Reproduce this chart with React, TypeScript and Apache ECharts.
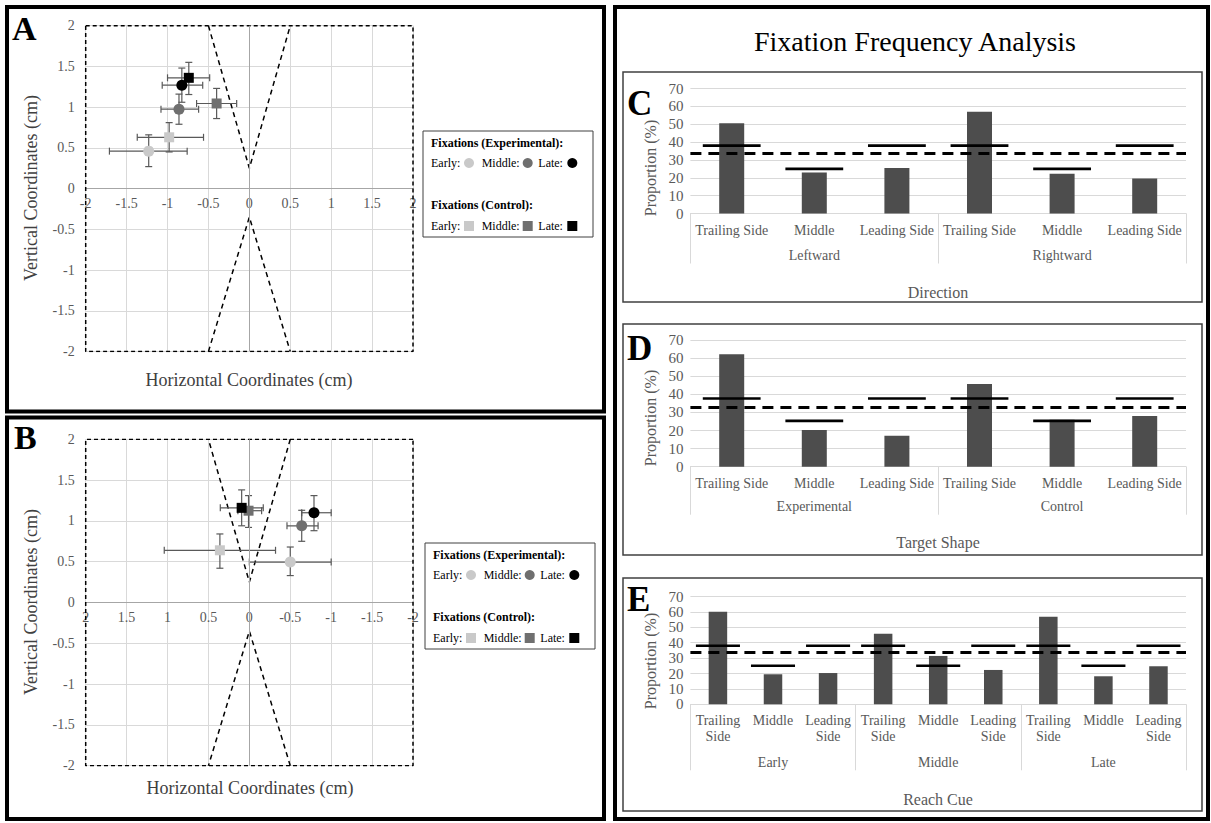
import { useEffect, useRef } from 'react';
import * as echarts from 'echarts';

const FONT = 'Liberation Serif, Times New Roman, Times, serif';

// ---------- Panels A & B : fixation coordinates (cm) ----------
// each point: [x, y, xLow, xHigh, yLow, yHigh]
const stageNames = ['Early', 'Middle', 'Late'];
const stageColors = ['#c9c9c9', '#6f6f6f', '#000000'];
const panelA_experimental = [
  [-1.23, 0.46, -1.71, -0.76, 0.27, 0.66],
  [-0.86, 0.975, -1.08, -0.62, 0.79, 1.16],
  [-0.825, 1.27, -1.065, -0.57, 1.06, 1.48],
];
const panelA_control = [
  [-0.98, 0.63, -1.37, -0.56, 0.45, 0.81],
  [-0.4, 1.045, -0.645, -0.155, 0.86, 1.23],
  [-0.74, 1.36, -1.0, -0.485, 1.155, 1.55],
];
const panelB_experimental = [
  [-0.5, 0.495, -1.0, 0.0, 0.33, 0.68],
  [-0.64, 0.94, -0.84, -0.46, 0.75, 1.13],
  [-0.79, 1.1, -1.0, -0.64, 0.88, 1.31],
];
const panelB_control = [
  [0.36, 0.64, -0.32, 1.04, 0.42, 0.84],
  [0.01, 1.125, -0.15, 0.14, 0.92, 1.31],
  [0.094, 1.16, -0.17, 0.355, 0.94, 1.38],
];
const targetBorder = [[-2, 2], [2, 2], [2, -2], [-2, -2], [-2, 2]];
const upperWedge = [[-0.5, 2], [0, 0.25], [0.5, 2]];
const lowerWedge = [[-0.5, -2], [0, -0.35], [0.5, -2]];

// ---------- Panels C, D, E : fixation frequency (%) ----------
const sideCategories = ['Trailing Side', 'Middle', 'Leading Side', 'Trailing Side', 'Middle', 'Leading Side'];
const directionGroups = ['Leftward', 'Rightward'];
const directionValues = [50.5, 23, 25.5, 57, 22.3, 19.6];
const directionExpected = [38, 25, 38, 38, 25, 38];
const directionChance = 34;

const shapeGroups = ['Experimental', 'Control'];
const shapeValues = [62.1, 20.3, 17.1, 45.7, 26, 28];
const shapeExpected = [37.7, 25.3, 37.7, 37.7, 25.3, 37.7];
const shapeChance = 33;

const cueCategories = ['Trailing\nSide', 'Middle', 'Leading\nSide', 'Trailing\nSide', 'Middle', 'Leading\nSide', 'Trailing\nSide', 'Middle', 'Leading\nSide'];
const cueGroups = ['Early', 'Middle', 'Late'];
const cueValues = [60.1, 19.5, 20.3, 45.8, 31.4, 22.3, 56.9, 18.2, 24.7];
const cueExpected = [38, 25, 38, 38, 25, 38, 38, 25, 38];
const cueChance = 34;

const GRID_GRAY = '#d9d9d9';
const LABEL_GRAY = '#595959';
const BAR_COLOR = '#4d4d4d';

function errorBarRender(params: any, api: any) {
  const p = api.coord([api.value(0), api.value(1)]);
  const l = api.coord([api.value(2), api.value(1)]);
  const r = api.coord([api.value(3), api.value(1)]);
  const b = api.coord([api.value(0), api.value(4)]);
  const t = api.coord([api.value(0), api.value(5)]);
  const c = 3.5;
  const st = { stroke: '#595959', lineWidth: 1.2 };
  const ln = (x1: number, y1: number, x2: number, y2: number) => ({ type: 'line', shape: { x1, y1, x2, y2 }, style: st });
  return {
    type: 'group',
    children: [
      ln(l[0], p[1], r[0], p[1]),
      ln(l[0], p[1] - c, l[0], p[1] + c),
      ln(r[0], p[1] - c, r[0], p[1] + c),
      ln(p[0], b[1], p[0], t[1]),
      ln(p[0] - c, b[1], p[0] + c, b[1]),
      ln(p[0] - c, t[1], p[0] + c, t[1]),
    ],
  };
}

function expectedRender(frac: number) {
  return (params: any, api: any) => {
    const c = api.coord([api.value(0), api.value(1)]);
    const w = api.size([1, 0])[0] * frac;
    return {
      type: 'line',
      shape: { x1: c[0] - w / 2, y1: c[1], x2: c[0] + w / 2, y2: c[1] },
      style: { stroke: '#000', lineWidth: 2.6 },
    };
  };
}

function scatterSeries(idx: number, exp: number[][], ctrl: number[][]) {
  const s: any[] = [];
  s.push({
    type: 'line', name: 'border', xAxisIndex: idx, yAxisIndex: idx, data: targetBorder, symbol: 'none', silent: true,
    lineStyle: { color: '#000', width: 1.5, type: [4, 3] }, z: 3,
    markLine: {
      silent: true, symbol: 'none', label: { show: false },
      lineStyle: { color: '#a6a6a6', width: 1, type: 'solid' },
      data: [{ xAxis: 0 }],
    },
  });
  [upperWedge, lowerWedge].forEach((w) =>
    s.push({
      type: 'line', name: 'wedge', xAxisIndex: idx, yAxisIndex: idx, data: w, symbol: 'none', silent: true,
      lineStyle: { color: '#000', width: 1.5, type: [5, 4] }, z: 3,
    })
  );
  s.push({
    type: 'custom', name: 'error', xAxisIndex: idx, yAxisIndex: idx, renderItem: errorBarRender,
    data: [...exp, ...ctrl], encode: { x: 0, y: 1 }, z: 4, silent: true,
  });
  exp.forEach((p, i) =>
    s.push({
      type: 'scatter', name: 'Experimental ' + stageNames[i], xAxisIndex: idx, yAxisIndex: idx,
      data: [[p[0], p[1]]], symbol: 'circle', symbolSize: 11, itemStyle: { color: stageColors[i], opacity: 1 }, z: 5,
    })
  );
  ctrl.forEach((p, i) =>
    s.push({
      type: 'scatter', name: 'Control ' + stageNames[i], xAxisIndex: idx, yAxisIndex: idx,
      data: [[p[0], p[1]]], symbol: 'rect', symbolSize: 10, itemStyle: { color: stageColors[i], opacity: 1 }, z: 5,
    })
  );
  return s;
}

function barSeries(xIdx: number, yIdx: number, values: number[], expected: number[], chance: number, barWidth: number, frac: number) {
  return [
    {
      type: 'bar', name: 'Proportion', xAxisIndex: xIdx, yAxisIndex: yIdx, data: values, barWidth,
      itemStyle: { color: BAR_COLOR }, z: 2,
      markLine: {
        silent: true, symbol: 'none', label: { show: false },
        lineStyle: { color: '#000', width: 3, type: [11, 7] },
        data: [{ yAxis: chance }], z: 5,
      },
    },
    {
      type: 'custom', name: 'Expected', xAxisIndex: xIdx, yAxisIndex: yIdx, renderItem: expectedRender(frac),
      data: expected.map((v, i) => [i, v]), z: 4, silent: true,
    },
  ];
}

// the horizontal axis crosses the vertical one at 0 (middle of the plot)
function scatterX(grid: number, inverse: boolean, halfHeight: number) {
  return {
    type: 'value', gridIndex: grid, min: -2, max: 2, interval: 0.5, inverse,
    position: 'bottom', offset: -halfHeight,
    axisLine: { show: true, onZero: false, lineStyle: { color: '#a6a6a6', width: 1 } },
    axisTick: { show: false },
    axisLabel: { color: LABEL_GRAY, fontSize: 14, fontFamily: FONT, margin: 8 },
    splitLine: { lineStyle: { color: GRID_GRAY } },
  };
}
function scatterY(grid: number) {
  return {
    type: 'value', gridIndex: grid, min: -2, max: 2, interval: 0.5,
    axisLine: { show: false, onZero: false },
    axisTick: { show: false },
    axisLabel: { color: LABEL_GRAY, fontSize: 14, fontFamily: FONT, margin: 11 },
    splitLine: { lineStyle: { color: GRID_GRAY } },
  };
}
function barY(grid: number) {
  return {
    type: 'value', gridIndex: grid, min: 0, max: 70, interval: 10,
    axisLine: { show: false }, axisTick: { show: false },
    axisLabel: { color: LABEL_GRAY, fontSize: 15, fontFamily: FONT, margin: 7 },
    splitLine: { lineStyle: { color: GRID_GRAY } },
  };
}
function catX(grid: number, data: string[], margin: number, lineHeight: number) {
  return {
    type: 'category', gridIndex: grid, data, position: 'bottom',
    axisLine: { lineStyle: { color: GRID_GRAY } }, axisTick: { show: false },
    axisLabel: { interval: 0, color: LABEL_GRAY, fontSize: 14, fontFamily: FONT, margin, lineHeight },
  };
}
function groupX(grid: number, data: string[], margin: number, tickLen: number) {
  return {
    type: 'category', gridIndex: grid, data, position: 'bottom',
    axisLine: { show: false },
    axisTick: { show: true, interval: 0, length: tickLen, lineStyle: { color: GRID_GRAY } },
    axisLabel: { interval: 0, color: LABEL_GRAY, fontSize: 14, fontFamily: FONT, margin },
  };
}

function text(x: number, y: number, t: string, size: number, opts: any = {}) {
  return {
    type: 'text', x, y, rotation: opts.rotation || 0, z: 10, silent: true,
    style: {
      x: 0, y: 0, text: t, fill: opts.color || '#000',
      fontFamily: FONT, fontSize: size, fontWeight: opts.bold ? 'bold' : 'normal',
      textAlign: opts.align || 'center', textVerticalAlign: 'middle',
    },
  };
}

function legendBox(ox: number, oy: number) {
  const children: any[] = [
    { type: 'rect', shape: { x: 0, y: 0, width: 170, height: 106 }, style: { fill: '#fff', stroke: '#404040', lineWidth: 1 } },
  ];
  const rows = [
    { title: 'Fixations (Experimental):', ty: 12, ry: 32, shape: 'circle' },
    { title: 'Fixations (Control):', ty: 74, ry: 95, shape: 'rect' },
  ];
  const labelX = [8, 58.7, 115.3];
  const markX = [46, 104.7, 149.3];
  rows.forEach((r) => {
    children.push(text(8, r.ty, r.title, 12, { bold: true, align: 'left' }));
    stageNames.forEach((n, i) => {
      children.push(text(labelX[i], r.ry, n + ':', 12, { align: 'left' }));
      if (r.shape === 'circle') {
        children.push({ type: 'circle', shape: { cx: markX[i], cy: r.ry, r: 5 }, style: { fill: stageColors[i] } });
      } else {
        children.push({ type: 'rect', shape: { x: markX[i] - 5, y: r.ry - 5, width: 10, height: 10 }, style: { fill: stageColors[i] } });
      }
    });
  });
  return { type: 'group', x: ox, y: oy, z: 10, silent: true, children };
}

export default function App() {
  const ref = useRef<HTMLDivElement>(null);
  useEffect(() => {
    if (!ref.current) return;
    const chart = echarts.init(ref.current, null, { renderer: 'svg' });
    const grids = [
      { left: 85.7, top: 25.7, width: 327.3, height: 325.8 },
      { left: 85.7, top: 439.3, width: 327.3, height: 326.4 },
      { left: 690.4, top: 88.5, width: 495.6, height: 125 },
      { left: 690.4, top: 340, width: 495.6, height: 126.7 },
      { left: 690.4, top: 596.5, width: 495.6, height: 107.8 },
    ].map((g) => ({ ...g, outerBoundsMode: 'none', containLabel: false, show: false }));

    const option: any = {
      animation: false,
      backgroundColor: '#fff',
      textStyle: { fontFamily: FONT },
      title: {
        text: 'Fixation Frequency Analysis', left: 910, top: 22, textAlign: 'center',
        textStyle: { fontFamily: FONT, fontSize: 28, fontWeight: 'normal', color: '#000' },
      },
      grid: grids,
      xAxis: [
        scatterX(0, false, 325.8 / 2),
        scatterX(1, true, 326.4 / 2),
        catX(2, sideCategories, 9, 16),
        groupX(2, directionGroups, 35, 50),
        catX(3, sideCategories, 9, 16),
        groupX(3, shapeGroups, 33, 48),
        catX(4, cueCategories, 8, 16),
        groupX(4, cueGroups, 51, 66),
      ],
      yAxis: [scatterY(0), scatterY(1), barY(2), barY(3), barY(4)],
      series: [
        ...scatterSeries(0, panelA_experimental, panelA_control),
        ...scatterSeries(1, panelB_experimental, panelB_control),
        ...barSeries(2, 2, directionValues, directionExpected, directionChance, 25, 0.7),
        ...barSeries(4, 3, shapeValues, shapeExpected, shapeChance, 25, 0.7),
        ...barSeries(6, 4, cueValues, cueExpected, cueChance, 18.5, 0.8),
      ],
      graphic: [
        // panel frames
        { type: 'rect', shape: { x: 7, y: 7, width: 597, height: 404.5 }, style: { fill: 'none', stroke: '#000', lineWidth: 4 }, silent: true },
        { type: 'rect', shape: { x: 7, y: 417.5, width: 597, height: 401.5 }, style: { fill: 'none', stroke: '#000', lineWidth: 4 }, silent: true },
        { type: 'rect', shape: { x: 615, y: 7, width: 593, height: 812 }, style: { fill: 'none', stroke: '#000', lineWidth: 4 }, silent: true },
        { type: 'rect', shape: { x: 623, y: 72, width: 579, height: 230 }, style: { fill: 'none', stroke: '#404040', lineWidth: 1.5 }, silent: true },
        { type: 'rect', shape: { x: 623, y: 324, width: 579, height: 231 }, style: { fill: 'none', stroke: '#404040', lineWidth: 1.5 }, silent: true },
        { type: 'rect', shape: { x: 623, y: 578, width: 579, height: 233 }, style: { fill: 'none', stroke: '#404040', lineWidth: 1.5 }, silent: true },
        // panel letters
        text(12, 28, 'A', 34, { bold: true, align: 'left' }),
        text(14, 437, 'B', 34, { bold: true, align: 'left' }),
        text(627, 103, 'C', 35, { bold: true, align: 'left' }),
        text(627, 348, 'D', 35, { bold: true, align: 'left' }),
        text(627, 599, 'E', 35, { bold: true, align: 'left' }),
        // scatter axis titles
        text(31, 188, 'Vertical Coordinates (cm)', 18, { rotation: Math.PI / 2, color: '#404040' }),
        text(249, 380, 'Horizontal Coordinates (cm)', 18, { color: '#404040' }),
        text(31, 602, 'Vertical Coordinates (cm)', 18, { rotation: Math.PI / 2, color: '#404040' }),
        text(250, 788, 'Horizontal Coordinates (cm)', 18, { color: '#404040' }),
        // bar axis titles
        text(650, 168, 'Proportion (%)', 16, { rotation: Math.PI / 2, color: LABEL_GRAY }),
        text(650, 418, 'Proportion (%)', 16, { rotation: Math.PI / 2, color: LABEL_GRAY }),
        text(650, 661, 'Proportion (%)', 16, { rotation: Math.PI / 2, color: LABEL_GRAY }),
        text(938, 292, 'Direction', 16, { color: LABEL_GRAY }),
        text(938, 542, 'Target Shape', 16, { color: LABEL_GRAY }),
        text(938, 799, 'Reach Cue', 16, { color: LABEL_GRAY }),
        // legends
        legendBox(423, 131),
        legendBox(425, 543),
      ],
    };
    chart.setOption(option);
    return () => chart.dispose();
  }, []);
  return (
    <div
      ref={ref}
      style={{ position: 'fixed', left: 0, top: 0, width: 1211, height: 823, background: '#fff' }}
    />
  );
}
